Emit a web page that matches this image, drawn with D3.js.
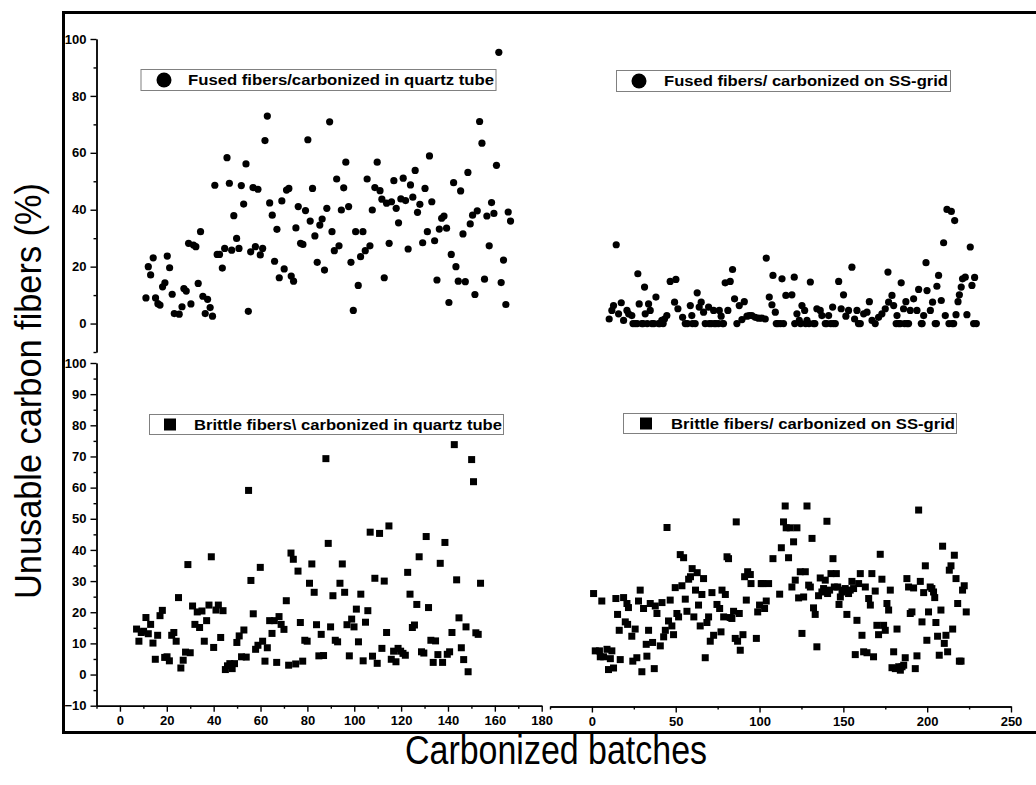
<!DOCTYPE html>
<html>
<head>
<meta charset="utf-8">
<script src="https://cdn.jsdelivr.net/npm/d3@7"></script>
<style>
  body { margin: 0; background: #fff; }
  svg { display: block; }
  text { font-family: Arial, "Liberation Sans", sans-serif; }
</style>
</head>
<body>
<svg id="chart" width="1036" height="785"></svg>
<script>
// [batch, unusable %]
let fusedQuartz = [[11.1,9.0],[12.1,20.0],[13.1,17.1],[14.2,23.1],[15.2,9.0],[16.2,7.0],[17.1,6.5],[18.2,12.9],[19.2,14.3],[20.2,23.7],
  [21.2,19.6],[22.3,10.3],[23.2,3.5],[25.3,3.3],[26.5,5.9],[27.3,12.3],[28.3,11.4],[29.3,28.2],[30.3,6.9],[31.4,27.6],
  [32.4,27.0],[33.4,14.1],[34.4,32.3],[35.4,9.6],[36.4,3.5],[37.4,8.5],[38.5,5.6],[39.5,2.6],[40.5,48.6],[41.5,24.3],
  [42.5,24.3],[43.7,19.5],[44.7,26.4],[45.7,58.3],[46.7,49.3],[47.7,25.8],[48.6,37.9],[49.8,29.9],[50.8,26.4],[51.8,48.5],
  [52.8,42.0],[53.8,56.1],[54.8,4.3],[55.8,25.2],[56.8,47.8],[57.8,27.0],[58.9,47.2],[59.9,24.1],[60.9,26.4],[61.9,64.3],
  [62.9,72.9],[63.9,42.4],[65.0,38.1],[66.0,21.9],[67.0,33.1],[68.0,16.1],[69.1,43.1],[70.1,19.2],[71.1,46.9],[72.1,47.5],
  [73.1,16.7],[74.1,14.9],[75.1,33.6],[76.1,41.1],[77.1,28.2],[78.1,27.8],[79.2,39.7],[80.2,64.6],[81.2,36.0],[82.2,47.5],
  [83.2,30.8],[84.2,21.5],[85.3,34.6],[86.3,36.7],[87.3,18.8],[88.3,40.5],[89.5,70.9],[90.5,32.3],[91.5,25.6],[92.5,50.8],
  [93.5,27.3],[94.5,39.9],[95.5,47.7],[96.4,56.7],[97.6,41.1],[98.6,21.5],[99.6,4.6],[100.6,32.3],[101.7,13.4],[102.7,23.5],
  [103.7,32.3],[104.7,25.6],[105.5,50.8],[106.7,27.3],[107.7,39.9],[108.8,47.8],[109.8,56.7],[111.0,46.7],[111.8,43.7],[112.8,16.1],
  [113.8,42.3],[114.9,28.2],[115.9,42.8],[116.9,50.2],[117.9,40.5],[118.9,35.4],[119.9,43.8],[120.9,51.1],[121.9,43.2],[123.0,26.2],
  [124.0,48.7],[125.0,44.4],[126.0,53.8],[127.0,39.1],[128.0,41.9],[129.2,28.4],[130.2,47.5],[131.2,32.3],[132.1,58.9],[133.1,42.8],
  [134.3,29.1],[135.3,15.3],[136.3,33.2],[137.3,37.0],[138.3,37.8],[139.4,33.5],[140.4,7.4],[141.4,24.3],[142.4,49.5],[143.4,20.0],
  [144.4,14.9],[145.4,46.6],[146.4,31.5],[147.4,14.7],[148.5,53.1],[149.5,35.0],[150.5,38.1],[151.5,10.2],[152.5,39.6],[153.5,71.0],
  [154.5,63.4],[155.6,15.6],[156.6,37.8],[157.6,27.3],[158.6,42.5],[159.6,38.7],[160.7,55.6],[161.7,95.3],[162.7,14.4],[163.7,22.3],
  [164.7,6.7],[165.7,39.2],[166.7,36.0]];

let fusedGrid = [[10.3,1.6],[11.9,4.6],[12.9,6.3],[14.5,27.7],[15.9,3.4],[17.5,7.3],[18.9,1.1],[20.9,4.6],[21.9,3.4],[23.8,2.8],
  [24.5,0],[25.8,0],[27,0],[27.4,17.5],[28.2,6.9],[29.8,0],[30.5,0],[31.4,12.8],[31.8,3.4],[33,0],[33.8,6.9],[34.8,4.6],[35.8,0],
  [37,0],[38.2,9.3],[39.8,0],[40.5,0],[41.7,1.1],[42.5,0],[43.3,1.6],[44.7,2.8],[46.7,14.8],[49.3,7.5],[50.1,15.5],[51.3,5.2],
  [54.1,2.2],[55.7,0],[57,0],[58.7,6.3],[59.6,2.8],[60,0],[61.6,0],[62.8,10.8],[64.0,5.8],[65.2,7.5],[66.6,4.0],[67.6,0],
  [69.6,5.8],[70,0],[71.2,0],[72.6,4.6],[73,0],[74.0,0],[75.5,0],[76.0,4.6],[77.1,2.6],[78,0],[78.5,0],[79.5,14.3],[81.1,4.6],
  [82.5,14.8],[83.9,19.0],[85.1,8.7],[86.5,0],[87.9,6.3],[89.5,1.4],[90.9,7.7],[92.5,2.6],[93.9,2.8],[95.4,2.8],[97.4,2.2],
  [99.4,1.9],[101.4,1.9],[103.4,1.6],[104.0,23.0],[105.8,9.3],[107.4,6.6],[108.0,16.9],[109.4,4.0],[110,0],[111.0,0],[112.5,0],
  [113.4,15.7],[114.3,0],[115.7,9.9],[119.3,10.1],[120.7,16.3],[121,0],[122.3,3.4],[123.7,1.1],[124.5,0],[125.3,6.3],[126.9,4.6],
  [127.5,0],[128.3,1.1],[129.5,0],[130.3,14.6],[132.2,0],[133,0],[134.2,5.2],[136.2,4.6],[137.2,2.8],[139.2,0],[140,0],[141.2,2.8],
  [142.5,0],[143.6,5.8],[144,0],[145.2,0],[147.2,14.8],[148.7,5.2],[150.1,10.1],[151.5,2.6],[153.1,4.6],[155.1,19.8],[156.7,1.6],
  [158.1,4.6],[159,0],[160.1,0],[162.1,3.4],[164.1,4.0],[165.5,7.7],[167.1,1.1],[169.0,0],[171.0,2.2],[173.0,3.4],[175.0,5.2],
  [176.6,18.1],[177.0,7.5],[179.0,9.9],[180.0,6.3],[181.5,0],[182.0,2.8],[183.0,0],[184,0],[184.5,14.3],[185.9,5.2],[186.5,0],
  [187.3,7.7],[188,0],[188.9,0],[189.9,4.6],[191.9,8.7],[193.9,4.6],[194.9,12.0],[196.5,0],[197,0],[197.9,2.8],[199.3,21.4],
  [199.9,11.6],[201.9,4.6],[203.2,7.5],[204.8,0],[205.5,0],[205.8,13.1],[206.8,16.9],[208.4,8.1],[209.8,28.4],[210.8,2.8],
  [211.8,40.1],[213,0],[214.4,39.4],[215,0],[215.8,0],[216.4,36.2],[217.2,3.1],[218.4,7.7],[219.2,10.1],[220.3,12.8],[221.1,15.7],
  [222.7,16.3],[223.7,3.1],[225.7,26.9],[226.7,13.4],[227.7,0],[228.3,16.2],[229.3,0]];

let brittleQuartz = [[7.1,14.6],[8.1,10.7],[9.1,13.5],[10.1,13.9],[11.1,18.3],[12.1,13.1],[13.1,16.1],[14.1,10.1],[15.1,4.9],[16.1,12.6],
  [17.1,18.9],[18.1,20.6],[19.1,5.5],[20.1,5.7],[21.1,4.4],[22.1,12.6],[23.0,13.5],[24.0,10.7],[25.0,24.7],[26.0,2.1],
  [27.0,4.6],[28.0,7.2],[29.0,35.3],[30.0,7.0],[31.0,22.0],[32.0,16.1],[33.0,20.1],[34.0,15.1],[35.0,20.4],[36.0,10.7],
  [37.0,17.3],[38.0,22.3],[39.0,37.8],[40.0,8.7],[41.0,20.7],[42.0,22.3],[43.0,11.9],[44.0,20.5],[45.0,1.6],[45.9,2.8],
  [46.9,3.5],[47.9,1.9],[48.9,3.5],[49.9,10.3],[50.9,12.4],[51.9,5.7],[52.9,14.3],[53.9,5.6],[54.9,59.1],[55.9,30.2],
  [56.9,19.5],[57.9,8.1],[58.9,9.4],[59.9,34.4],[60.9,10.7],[61.9,4.3],[62.9,8.6],[63.9,17.3],[64.9,13.2],[65.9,17.3],
  [66.9,3.9],[67.9,18.6],[68.8,16.1],[70.0,14.5],[71.0,23.7],[72.0,3.0],[73.0,39.0],[74.0,37.0],[75.0,3.4],[76.0,33.2],
  [77.0,16.7],[78.0,4.3],[78.9,11.0],[79.9,10.7],[80.9,29.3],[81.9,35.5],[82.9,26.4],[83.9,16.0],[84.9,6.0],[85.9,12.9],
  [86.9,6.1],[87.9,69.3],[88.9,42.1],[89.9,15.3],[90.9,25.3],[91.9,11.0],[92.9,10.5],[93.9,29.3],[94.9,35.5],[95.9,26.4],
  [96.9,16.0],[97.9,6.0],[98.9,17.8],[99.9,15.3],[100.9,21.0],[101.8,10.5],[102.8,25.8],[103.8,4.4],[104.8,16.8],[105.8,20.5],
  [106.8,45.7],[107.8,5.9],[108.8,30.9],[109.8,3.6],[110.8,45.3],[111.8,8.4],[112.8,30.0],[113.8,13.5],[114.8,47.7],[115.8,4.9],
  [116.8,7.5],[117.8,4.1],[118.7,8.4],[119.8,7.5],[120.8,6.8],[121.8,6.2],[122.8,32.8],[123.8,25.8],[124.8,15.1],[125.7,15.9],
  [126.7,22.5],[127.7,37.8],[128.7,7.3],[129.7,6.9],[130.7,44.3],[131.7,21.5],[132.7,11.0],[133.7,3.9],[134.7,10.8],[135.7,6.4],
  [136.7,35.7],[137.7,3.9],[138.7,42.4],[139.7,6.5],[140.7,7.3],[141.7,13.5],[142.7,73.8],[143.7,30.4],[144.7,18.2],[145.7,8.6],
  [146.7,4.8],[147.7,15.3],[148.6,0.9],[150.1,69.0],[150.9,61.9],[151.9,13.4],[152.9,12.9],[153.9,29.3]];

let brittleGrid = [[1.0,26.0],[2.0,7.6],[4.5,7.6],[5.0,5.7],[5.9,23.6],[7.0,5.7],[9.0,8.1],[9.9,1.6],[11.0,5.1],[11.9,7.6],
  [12.9,2.1],[14.3,24.4],[15.3,19.3],[16.3,14.2],[16.9,4.8],[18.9,24.7],[19.9,16.9],[20.9,22.8],[21.3,16.1],[21.8,21.5],
  [23.8,12.3],[24.4,4.3],[25.8,14.6],[26.8,5.4],[27.8,23.6],[28.8,27.1],[29.8,0.9],[30.8,21.2],[32.4,9.7],[32.8,5.9],
  [33.8,14.2],[34.8,22.8],[36.2,10.3],[37.2,1.9],[37.8,22.0],[38.8,19.6],[40.8,9.2],[41.8,23.1],[42.8,12.1],[43.8,14.2],
  [44.8,47.2],[45.7,17.2],[46.7,23.9],[47.7,15.6],[48.7,12.8],[49.7,27.9],[50.7,19.6],[51.7,18.5],[52.7,38.5],[53.7,28.5],
  [54.7,37.5],[55.7,24.2],[56.7,20.3],[57.7,30.6],[58.8,31.4],[59.8,34.0],[60.8,18.5],[61.8,27.1],[62.8,32.7],[63.6,22.3],
  [64.6,15.6],[65.6,25.7],[66.6,30.8],[67.6,5.4],[68.6,16.7],[69.6,18.5],[70.6,10.7],[71.6,26.3],[72.6,12.6],[74.6,22.5],
  [76.2,21.2],[77.0,13.7],[77.6,27.1],[78.6,18.5],[79.6,25.7],[80.6,37.8],[81.5,37.2],[82.5,18.3],[83.5,18.0],[84.5,20.3],
  [85.5,11.6],[86.1,49.0],[86.9,10.7],[87.9,19.6],[88.5,7.8],[90.1,12.8],[91.1,31.4],[92.1,23.9],[92.9,33.0],[94.5,32.1],
  [94.9,29.2],[98.1,11.6],[98.9,20.1],[100.0,22.3],[101.0,29.2],[102.0,29.2],[103.0,21.2],[104.0,23.6],[105.4,29.2],[108.0,37.2],
  [112.0,25.8],[113.0,40.7],[114.3,49.0],[115.3,54.1],[115.9,47.1],[117.3,37.5],[118.3,47.1],[119.3,28.1],[120.3,42.6],[121.3,30.3],
  [122.3,47.1],[123.3,24.6],[124.3,33.0],[125.3,13.2],[126.3,24.9],[127.3,33.0],[128.3,54.1],[129.3,28.7],[130.3,28.1],[131.3,43.7],
  [132.2,21.4],[133.2,19.3],[134.2,8.9],[135.2,25.3],[136.2,31.0],[137.2,26.5],[138.2,27.6],[139.2,30.3],[140.2,49.2],[140.6,26.0],
  [141.8,27.1],[142.6,32.4],[143.8,37.2],[144.6,28.1],[145.8,32.4],[146.6,28.1],[147.4,22.5],[148.2,24.9],[149.2,26.5],[150.2,27.1],
  [151.1,27.6],[152.1,19.3],[153.1,26.0],[154.1,27.1],[155.1,29.9],[156.1,27.6],[157.1,6.4],[158.1,17.4],[159.1,29.2],[160.1,32.4],
  [161.1,12.6],[162.1,7.3],[163.1,28.1],[164.1,7.0],[165.1,24.4],[166.1,22.3],[167.0,32.4],[168.0,5.7],[169.0,26.8],[170.0,15.8],
  [171.0,12.8],[172.0,38.6],[173.0,30.6],[174.0,15.8],[175.0,14.2],[176.0,22.8],[177.0,20.7],[178.0,27.1],[179.0,2.2],[180.0,7.3],
  [181.0,1.9],[182.0,14.6],[183.0,2.5],[184.0,1.4],[185.0,2.5],[186.0,3.0],[186.9,5.4],[187.9,30.8],[188.9,28.1],[189.9,19.6],
  [190.9,20.1],[191.9,27.8],[192.9,1.9],[193.9,6.0],[194.9,52.8],[195.9,29.9],[196.9,16.9],[197.9,26.3],[198.9,34.9],[199.8,11.0],
  [200.8,20.1],[201.8,28.1],[202.8,27.6],[203.8,26.5],[204.5,24.7],[205.2,16.7],[206.2,12.3],[207.2,6.2],[208.2,20.7],[209.2,41.2],
  [210.2,10.0],[211.2,12.6],[212.2,7.3],[213.2,33.5],[214.2,34.9],[215.2,14.6],[216.2,38.3],[217.2,30.8],[218.2,22.8],[219.2,4.3],
  [220.2,4.3],[221.1,27.1],[222.1,28.5],[223.3,20.1]];

let legendNames = ['Fused fibers/carbonized in quartz tube', 'Fused fibers/ carbonized on SS-grid',
  'Brittle fibers\\ carbonized in quartz tube', 'Brittle fibers/ carbonized on SS-grid'];

let quartzTicks = [0, 20, 40, 60, 80, 100, 120, 140, 160, 180];
let quartzMinor = [-10, 10, 30, 50, 70, 90, 110, 130, 150, 170];
let gridTicks = [0, 50, 100, 150, 200, 250];
let gridMinor = [-25, 25, 75, 125, 175, 225];
let topYTicks = [0, 20, 40, 60, 80, 100];
let topYMinor = [-10, 10, 30, 50, 70, 90];
let botYTicks = [-10, 0, 10, 20, 30, 40, 50, 60, 70, 80, 90, 100];
let botYMinor = [-5, 5, 15, 25, 35, 45, 55, 65, 75, 85, 95];

let svg = d3.select('#chart');

let xQuartz = d3.scaleLinear().domain([-10, 180]).range([96.5, 541.7]);
let xGrid = d3.scaleLinear().domain([-25, 250]).range([550, 1011]);
let yTop = d3.scaleLinear().domain([-10, 100]).range([352, 39]);
let yBot = d3.scaleLinear().domain([-10, 100]).range([705.7, 363]);

// outer frame, runs off the right edge like the original
svg.append('rect')
  .attr('x', 63.5).attr('y', 12.5)
  .attr('width', 1000).attr('height', 720)
  .style('fill', 'none')
  .style('stroke', '#000')
  .style('stroke-width', '3px');

function styleAxis(g){
  g.selectAll('path, line').style('stroke', '#000').style('stroke-width', '1.4px');
  g.selectAll('text')
    .style('font-size', '13px')
    .style('font-weight', 'bold')
    .style('fill', '#000');
}

function minorAxis(axisFn, scale, vals, tx, ty){
  svg.append('g')
    .attr('transform', `translate(${tx},${ty})`)
    .call(axisFn(scale).tickValues(vals).tickSize(3).tickSizeOuter(0).tickFormat(''))
    .call(styleAxis);
}

// y axes
svg.append('g').attr('transform', 'translate(96.5,0)')
  .call(d3.axisLeft(yTop).tickValues(topYTicks).tickSize(6).tickSizeOuter(0).tickPadding(4))
  .call(styleAxis);
minorAxis(d3.axisLeft, yTop, topYMinor, 96.5, 0);

svg.append('g').attr('transform', 'translate(96.5,0)')
  .call(d3.axisLeft(yBot).tickValues(botYTicks).tickSize(6).tickSizeOuter(0).tickPadding(4))
  .call(styleAxis);
minorAxis(d3.axisLeft, yBot, botYMinor, 96.5, 0);

// x axes
svg.append('g').attr('transform', 'translate(0,705.7)')
  .call(d3.axisBottom(xQuartz).tickValues(quartzTicks).tickSize(6).tickSizeOuter(0).tickPadding(4))
  .call(styleAxis);
minorAxis(d3.axisBottom, xQuartz, quartzMinor, 0, 705.7);

svg.append('g').attr('transform', 'translate(0,706.5)')
  .call(d3.axisBottom(xGrid).tickValues(gridTicks).tickSize(6).tickSizeOuter(0).tickPadding(4))
  .call(styleAxis);
minorAxis(d3.axisBottom, xGrid, gridMinor, 0, 706.5);

// markers
function drawCircles(data, xs, ys){
  svg.append('g').selectAll('circle')
    .data(data)
    .enter()
    .append('circle')
    .attr('cx', d => xs(d[0]))
    .attr('cy', d => ys(d[1]))
    .attr('r', 3.6)
    .style('fill', '#000');
}

function drawSquares(data, xs, ys){
  let s = 7;
  svg.append('g').selectAll('rect')
    .data(data)
    .enter()
    .append('rect')
    .attr('x', d => xs(d[0]) - s/2)
    .attr('y', d => ys(d[1]) - s/2)
    .attr('width', s)
    .attr('height', s)
    .style('fill', '#000');
}

drawCircles(fusedQuartz, xQuartz, yTop);
drawCircles(fusedGrid, xGrid, yTop);
drawSquares(brittleQuartz, xQuartz, yBot);
drawSquares(brittleGrid, xGrid, yBot);

// legends
let legends = [
  {name: legendNames[0], box: [141, 69.5, 355, 21], sym: 'circle', sx: 164, tx: 188, tw: 306},
  {name: legendNames[1], box: [616.5, 70.5, 334, 21], sym: 'circle', sx: 639, tx: 664, tw: 284},
  {name: legendNames[2], box: [149.5, 414.5, 354, 20], sym: 'square', sx: 170, tx: 194, tw: 308},
  {name: legendNames[3], box: [623.5, 413.5, 333, 20], sym: 'square', sx: 646, tx: 671, tw: 284}
];

legends.forEach(l => {
  let g = svg.append('g');
  let cy = l.box[1] + l.box[3] / 2;
  g.append('rect')
    .attr('x', l.box[0]).attr('y', l.box[1])
    .attr('width', l.box[2]).attr('height', l.box[3])
    .style('fill', '#fff')
    .style('stroke', '#808080')
    .style('stroke-width', '1px');
  if (l.sym == 'circle') {
    g.append('circle').attr('cx', l.sx).attr('cy', cy).attr('r', 7.5).style('fill', '#000');
  } else {
    g.append('rect').attr('x', l.sx - 6).attr('y', cy - 6).attr('width', 12).attr('height', 12).style('fill', '#000');
  }
  g.append('text')
    .attr('x', l.tx).attr('y', cy + 5)
    .attr('textLength', l.tw)
    .attr('lengthAdjust', 'spacingAndGlyphs')
    .style('font-size', '14px')
    .style('font-weight', 'bold')
    .text(l.name);
});

// axis titles
svg.append('text')
  .attr('transform', 'translate(41,391) rotate(-90)')
  .attr('text-anchor', 'middle')
  .attr('textLength', 416)
  .attr('lengthAdjust', 'spacingAndGlyphs')
  .style('font-size', '36px')
  .text('Unusable carbon fibers (%)');

svg.append('text')
  .attr('x', 556).attr('y', 764)
  .attr('text-anchor', 'middle')
  .attr('textLength', 302)
  .attr('lengthAdjust', 'spacingAndGlyphs')
  .style('font-size', '40px')
  .text('Carbonized batches');
</script>
</body>
</html>
